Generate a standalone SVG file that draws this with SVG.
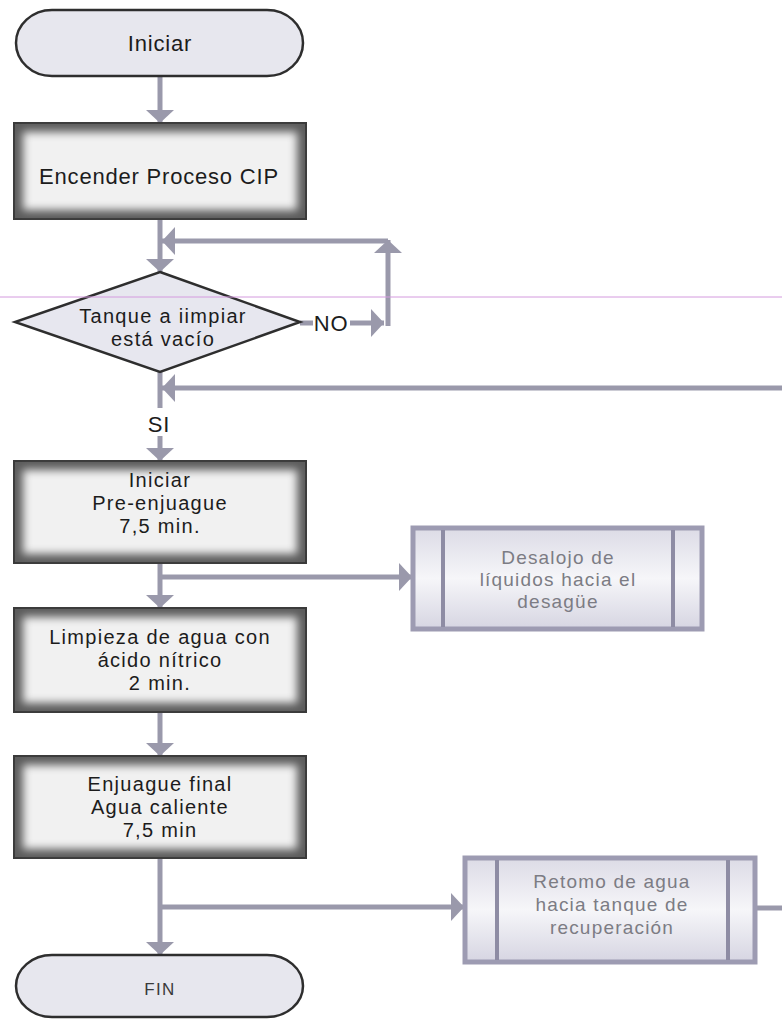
<svg xmlns="http://www.w3.org/2000/svg" width="782" height="1019" viewBox="0 0 782 1019">
  <style>
    .lbl { font-family: "Liberation Sans", Arial, sans-serif; font-size: 20px; letter-spacing: 1.3px; fill: #1c1c1c; text-anchor: middle; }
    .big { font-size: 22px; letter-spacing: 0.8px; }
    .sub { font-family: "Liberation Sans", Arial, sans-serif; font-size: 19px; letter-spacing: 1.2px; fill: #7c7c84; text-anchor: middle; }
    .term { fill: #e7e7ee; stroke: #2e2e2e; stroke-width: 2.5; }
    .conn { fill: none; stroke: #9a99ab; stroke-width: 5; }
    .frame { fill: #5c5c5c; stroke: #3a3a3a; stroke-width: 2; }
    .core { fill: #f1f1f1; filter: url(#soft); }
    .subbox { fill: url(#lav); stroke: #9d9bb2; stroke-width: 5; }
    .bar { stroke: #8e8ca4; stroke-width: 4; }
  </style>
  <defs>
    <marker id="arr" markerUnits="userSpaceOnUse" markerWidth="15" markerHeight="30" refX="13" refY="14" orient="auto">
      <path d="M0,0 L13,14 L0,28 z" fill="#9a99ab"/>
    </marker>
    <filter id="soft" x="-20%" y="-20%" width="140%" height="140%">
      <feGaussianBlur stdDeviation="4"/>
    </filter>
    <linearGradient id="lav" x1="0" y1="0" x2="0" y2="1">
      <stop offset="0" stop-color="#dcdbe6"/>
      <stop offset="0.5" stop-color="#f6f6f9"/>
      <stop offset="1" stop-color="#d6d5e2"/>
    </linearGradient>
  </defs>

  <rect width="782" height="1019" fill="#ffffff"/>

  <!-- connectors -->
  <g id="connectors">
    <path class="conn" d="M160,76 V123" marker-end="url(#arr)"/>
    <path class="conn" d="M160,218 V272" marker-end="url(#arr)"/>
    <path class="conn" d="M300,323 H313"/>
    <path class="conn" d="M350,323 H384" marker-end="url(#arr)"/>
    <path class="conn" d="M388,326 V240" marker-end="url(#arr)"/>
    <path class="conn" d="M388,241 H162" marker-end="url(#arr)"/>
    <path class="conn" d="M782,388 H162" marker-end="url(#arr)"/>
    <path class="conn" d="M160,372 V408"/>
    <path class="conn" d="M160,436 V461" marker-end="url(#arr)"/>
    <path class="conn" d="M160,563 V608" marker-end="url(#arr)"/>
    <path class="conn" d="M160,577 H412" marker-end="url(#arr)"/>
    <path class="conn" d="M160,712 V756" marker-end="url(#arr)"/>
    <path class="conn" d="M160,858 V955" marker-end="url(#arr)"/>
    <path class="conn" d="M160,907 H464" marker-end="url(#arr)"/>
    <path class="conn" d="M755,908 H782"/>
    <text class="lbl big" x="331" y="331">NO</text>
    <text class="lbl big" x="159" y="432">SI</text>
  </g>

  <g id="inicio">
    <rect class="term" x="16" y="10" width="287" height="66" rx="36" ry="33"/>
    <text class="lbl big" x="160" y="51">Iniciar</text>
  </g>

  <g id="encender">
    <rect class="frame" x="14" y="123" width="292" height="96"/>
    <rect class="core" x="23" y="132" width="274" height="78"/>
    <text class="lbl big" x="159" y="184">Encender Proceso CIP</text>
  </g>

  <g id="tanque-vacio">
    <polygon points="160,272 300,322 160,372 15,322" fill="#e7e7ef" stroke="#2e2e2e" stroke-width="2.5"/>
    <text class="lbl" x="163" y="323">Tanque a iimpiar</text>
    <text class="lbl" x="163" y="346">está vacío</text>
  </g>

  <g id="pre-enjuague">
    <rect class="frame" x="14" y="461" width="292" height="102"/>
    <rect class="core" x="23" y="470" width="274" height="84"/>
    <text class="lbl" x="160" y="487">Iniciar</text>
    <text class="lbl" x="160" y="510">Pre-enjuague</text>
    <text class="lbl" x="160" y="533">7,5 min.</text>
  </g>

  <g id="desalojo">
    <rect class="subbox" x="413" y="528" width="289" height="101"/>
    <line class="bar" x1="443" y1="530" x2="443" y2="627"/>
    <line class="bar" x1="673" y1="530" x2="673" y2="627"/>
    <text class="sub" x="558" y="564">Desalojo de</text>
    <text class="sub" x="558" y="586">líquidos hacia el</text>
    <text class="sub" x="558" y="608">desagüe</text>
  </g>

  <g id="limpieza-nitrico">
    <rect class="frame" x="14" y="608" width="292" height="104"/>
    <rect class="core" x="23" y="617" width="274" height="86"/>
    <text class="lbl" x="160" y="644">Limpieza de agua con</text>
    <text class="lbl" x="160" y="667">ácido nítrico</text>
    <text class="lbl" x="160" y="690">2 min.</text>
  </g>

  <g id="enjuague-final">
    <rect class="frame" x="14" y="756" width="292" height="102"/>
    <rect class="core" x="23" y="765" width="274" height="84"/>
    <text class="lbl" x="160" y="791">Enjuague final</text>
    <text class="lbl" x="160" y="814">Agua caliente</text>
    <text class="lbl" x="160" y="837">7,5 min</text>
  </g>

  <g id="retorno">
    <rect class="subbox" x="465" y="858" width="290" height="104"/>
    <line class="bar" x1="497" y1="860" x2="497" y2="960"/>
    <line class="bar" x1="728" y1="860" x2="728" y2="960"/>
    <text class="sub" x="612" y="888">Retomo de agua</text>
    <text class="sub" x="612" y="911">hacia tanque de</text>
    <text class="sub" x="612" y="934">recuperación</text>
  </g>

  <g id="fin">
    <rect class="term" x="16" y="955" width="287" height="62" rx="36" ry="31"/>
    <text class="lbl" x="160" y="995" style="font-size:17px;fill:#3a3a3a">FIN</text>
  </g>

  <!-- thin magenta rule across the sheet -->
  <line x1="0" y1="297" x2="782" y2="297" stroke="#d49ade" stroke-width="1"/>
</svg>
